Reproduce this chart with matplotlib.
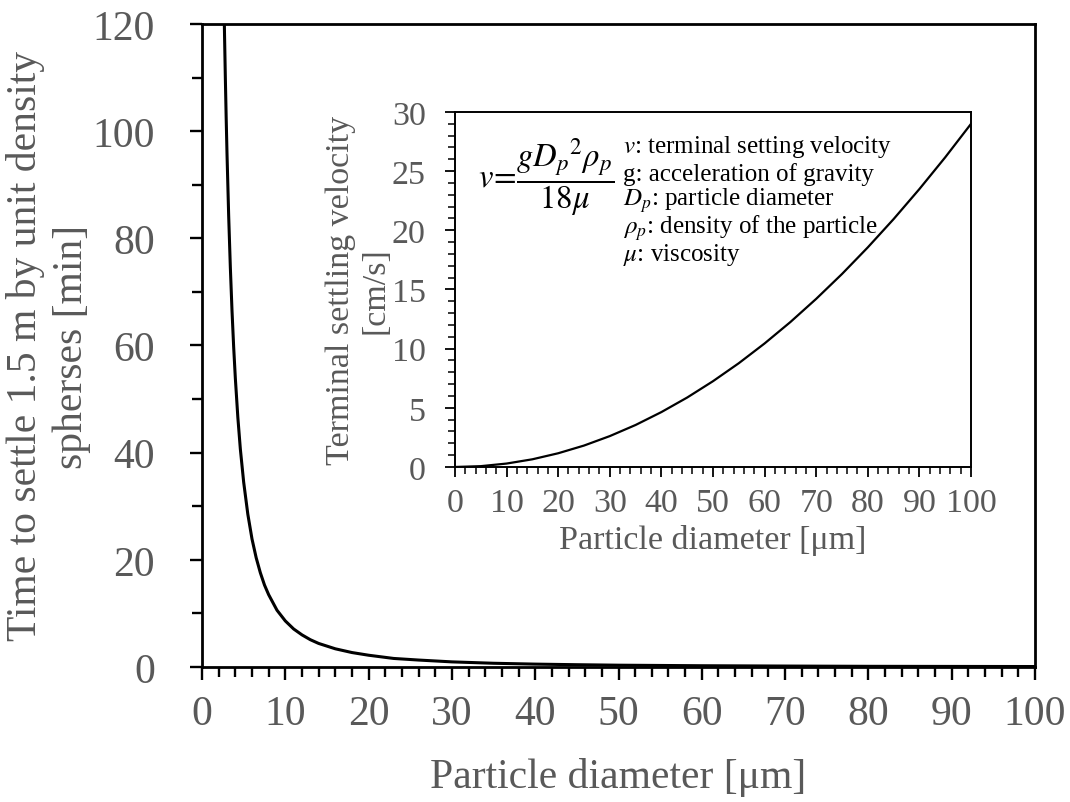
import matplotlib
matplotlib.use("Agg")
import matplotlib.pyplot as plt
from matplotlib.ticker import MultipleLocator

plt.rcParams['font.family'] = ['Liberation Serif', 'DejaVu Serif']
plt.rcParams['mathtext.fontset'] = 'stix'

# main chart: time to settle 1.5 m [min] vs particle diameter [um]
diam_main = [2.6, 2.7, 2.8, 2.9, 3.0, 3.2, 3.4, 3.6, 3.8, 4.0, 4.3, 4.6, 5.0, 5.5, 6, 6.5, 7, 7.5,
             8, 9, 10, 11, 12, 13, 14, 16, 18, 20, 23, 26, 30, 35, 40, 45, 50, 60, 70, 80, 90, 100]
settle_time = [127.5, 118.2, 110.0, 102.5, 95.8, 84.2, 74.6, 66.5, 59.7, 53.9, 46.6, 40.7, 34.5,
               28.5, 23.9, 20.4, 17.6, 15.3, 13.5, 10.6, 8.6, 7.1, 6.0, 5.1, 4.4, 3.4, 2.7, 2.2,
               1.6, 1.3, 0.96, 0.70, 0.54, 0.43, 0.34, 0.24, 0.18, 0.13, 0.11, 0.09]

# inset: terminal settling velocity [cm/s]
diam_inset = [0, 5, 10, 15, 20, 25, 30, 35, 40, 45, 50, 55, 60, 65, 70, 75, 80, 85, 90, 95, 100]
velocity = [0, 0.07, 0.29, 0.65, 1.16, 1.81, 2.61, 3.55, 4.64, 5.87, 7.25, 8.77, 10.44, 12.25,
            14.21, 16.31, 18.56, 20.95, 23.49, 26.17, 29.0]

legend_lines = [r'$v$: terminal setting velocity',
                'g: acceleration of gravity',
                r'$D_p$: particle diameter',
                r'$\rho_p$: density of the particle',
                r'$\mu$: viscosity']

gray = '#595959'

fig = plt.figure(figsize=(10.7, 8.03), dpi=100)
ax = fig.add_axes([0.1888, 0.1681, 0.7785, 0.8008])
ax.plot(diam_main, settle_time, color='black', lw=2.2)
ax.set_xlim(0, 100)
ax.set_ylim(0, 120)
ax.xaxis.set_major_locator(MultipleLocator(10))
ax.xaxis.set_minor_locator(MultipleLocator(2))
ax.yaxis.set_major_locator(MultipleLocator(20))
ax.yaxis.set_minor_locator(MultipleLocator(10))
for s in ax.spines.values():
    s.set_linewidth(2.0)
ax.tick_params(which='major', direction='out', length=9, width=1.7, labelsize=30, labelcolor=gray)
ax.tick_params(which='minor', direction='out', length=7, width=1.7)
ax.tick_params(axis='y', which='major', pad=25)
ax.tick_params(axis='x', which='major', pad=11)
ax.set_xlabel('Particle diameter [μm]', fontsize=30, color=gray)
ax.xaxis.set_label_coords(0.5, -0.14)
ax.set_ylabel('Time to settle 1.5 m by unit density\nspherses [min]', fontsize=30, color=gray,
              linespacing=1.25)
ax.yaxis.set_label_coords(-0.133, 0.5)

# inset
ins = fig.add_axes([0.4252, 0.4172, 0.4823, 0.4421])
ins.plot(diam_inset, velocity, color='black', lw=1.6)
ins.set_xlim(0, 100)
ins.set_ylim(0, 30)
ins.xaxis.set_major_locator(MultipleLocator(10))
ins.xaxis.set_minor_locator(MultipleLocator(2))
ins.yaxis.set_major_locator(MultipleLocator(5))
ins.yaxis.set_minor_locator(MultipleLocator(1))
for s in ins.spines.values():
    s.set_linewidth(1.4)
ins.tick_params(which='major', direction='out', length=7, width=1.3, labelsize=24.5, labelcolor=gray)
ins.tick_params(which='minor', direction='out', length=5, width=1.1)
ins.tick_params(axis='y', which='major', pad=14)
ins.tick_params(axis='x', which='major', pad=8)
ins.set_xlabel('Particle diameter [μm]', fontsize=24.5, color=gray)
ins.set_ylabel('Terminal settling velocity\n[cm/s]', fontsize=24.5, color=gray, linespacing=1.15)
ins.yaxis.set_label_coords(-0.125, 0.5)

ins.text(0.045, 0.817, r'$v\!=\!\dfrac{gD_p{}^2\rho_p}{18\mu}$', transform=ins.transAxes,
         fontsize=23.5, ha='left', va='center')
for i, line in enumerate(legend_lines):
    ins.text(0.326, 0.904 - i * 0.076, line, transform=ins.transAxes,
             fontsize=18, ha='left', va='center')

fig.savefig('out.png', dpi=100)
